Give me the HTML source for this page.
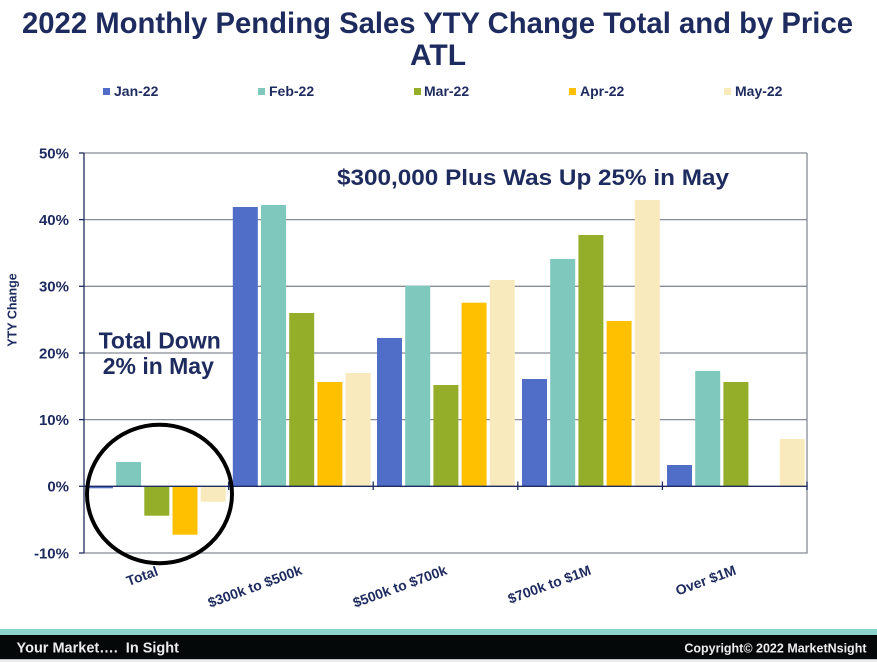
<!DOCTYPE html>
<html>
<head>
<meta charset="utf-8">
<style>
  html,body{margin:0;padding:0;background:#fff;}
  svg{display:block;}
  text{font-family:"Liberation Sans",Arial,sans-serif;font-weight:bold;fill:#1e2b5e;}
</style>
</head>
<body>
<svg width="877" height="662" viewBox="0 0 877 662" xmlns="http://www.w3.org/2000/svg">
  <rect x="0" y="0" width="877" height="662" fill="#fff"/>

  <!-- Title -->
  <text x="22" y="33" font-size="30" textLength="831" lengthAdjust="spacingAndGlyphs">2022 Monthly Pending Sales YTY Change Total and by Price</text>
  <text x="438" y="65" font-size="30" text-anchor="middle">ATL</text>

  <!-- Legend -->
  <rect x="103" y="88" width="7" height="7" fill="#506dc7"/>
  <text x="114" y="96" font-size="14">Jan-22</text>
  <rect x="258" y="88" width="7" height="7" fill="#7ec8bd"/>
  <text x="269" y="96" font-size="14">Feb-22</text>
  <rect x="414" y="88" width="7" height="7" fill="#95ae29"/>
  <text x="424" y="96" font-size="14">Mar-22</text>
  <rect x="569" y="88" width="7" height="7" fill="#ffc000"/>
  <text x="580" y="96" font-size="14">Apr-22</text>
  <rect x="724" y="88" width="7" height="7" fill="#f8eabd"/>
  <text x="735" y="96" font-size="14">May-22</text>

  <!-- Gridlines -->
  <g stroke="#888b98" stroke-width="1.3">
    <line x1="84" y1="153" x2="807" y2="153"/>
    <line x1="84" y1="219.6" x2="807" y2="219.6"/>
    <line x1="84" y1="286.3" x2="807" y2="286.3"/>
    <line x1="84" y1="353" x2="807" y2="353"/>
    <line x1="84" y1="419.6" x2="807" y2="419.6"/>
    <line x1="84" y1="553" x2="807.6" y2="553"/>
    <line x1="807" y1="153" x2="807" y2="553"/>
  </g>

  <!-- Bars -->
  <g>
    <!-- Total -->
    <rect x="87.9" y="486.3" width="25" height="2" fill="#506dc7"/>
    <rect x="116.1" y="462" width="25" height="24.3" fill="#7ec8bd"/>
    <rect x="144.3" y="486.3" width="25" height="29.4" fill="#95ae29"/>
    <rect x="172.5" y="486.3" width="25" height="48.4" fill="#ffc000"/>
    <rect x="200.7" y="486.3" width="25" height="15.4" fill="#f8eabd"/>
    <!-- 300k-500k -->
    <rect x="232.8" y="207" width="25" height="279.3" fill="#506dc7"/>
    <rect x="261" y="205" width="25" height="281.3" fill="#7ec8bd"/>
    <rect x="289.2" y="313" width="25" height="173.3" fill="#95ae29"/>
    <rect x="317.4" y="382" width="25" height="104.3" fill="#ffc000"/>
    <rect x="345.6" y="373" width="25" height="113.3" fill="#f8eabd"/>
    <!-- 500k-700k -->
    <rect x="377" y="338" width="25" height="148.3" fill="#506dc7"/>
    <rect x="405.2" y="285.7" width="25" height="200.6" fill="#7ec8bd"/>
    <rect x="433.4" y="385" width="25" height="101.3" fill="#95ae29"/>
    <rect x="461.6" y="302.7" width="25" height="183.6" fill="#ffc000"/>
    <rect x="489.8" y="280" width="25" height="206.3" fill="#f8eabd"/>
    <!-- 700k-1M -->
    <rect x="522" y="379" width="25" height="107.3" fill="#506dc7"/>
    <rect x="550.2" y="259" width="25" height="227.3" fill="#7ec8bd"/>
    <rect x="578.4" y="235" width="25" height="251.3" fill="#95ae29"/>
    <rect x="606.6" y="321" width="25" height="165.3" fill="#ffc000"/>
    <rect x="634.8" y="200" width="25" height="286.3" fill="#f8eabd"/>
    <!-- Over 1M -->
    <rect x="667" y="465" width="25" height="21.3" fill="#506dc7"/>
    <rect x="695.2" y="371" width="25" height="115.3" fill="#7ec8bd"/>
    <rect x="723.4" y="382" width="25" height="104.3" fill="#95ae29"/>
    <rect x="779.8" y="439" width="25" height="47.3" fill="#f8eabd"/>
  </g>

  <!-- Axes -->
  <g stroke="#1e2b5e" stroke-width="1.3">
    <line x1="84" y1="153" x2="84" y2="553"/>
    <line x1="84" y1="486.3" x2="807.6" y2="486.3"/>
    <line x1="79" y1="153" x2="84" y2="153"/>
    <line x1="79" y1="219.6" x2="84" y2="219.6"/>
    <line x1="79" y1="286.3" x2="84" y2="286.3"/>
    <line x1="79" y1="353" x2="84" y2="353"/>
    <line x1="79" y1="419.6" x2="84" y2="419.6"/>
    <line x1="79" y1="486.3" x2="84" y2="486.3"/>
    <line x1="79" y1="553" x2="84" y2="553"/>
    <line x1="228.6" y1="481.5" x2="228.6" y2="490"/>
    <line x1="373.2" y1="481.5" x2="373.2" y2="490"/>
    <line x1="517.8" y1="481.5" x2="517.8" y2="490"/>
    <line x1="662.4" y1="481.5" x2="662.4" y2="490"/>
    <line x1="807" y1="481.5" x2="807" y2="490"/>
  </g>

  <!-- Y tick labels -->
  <g font-size="15" text-anchor="end">
    <text x="69" y="158.5">50%</text>
    <text x="69" y="225">40%</text>
    <text x="69" y="291.5">30%</text>
    <text x="69" y="358.5">20%</text>
    <text x="69" y="425">10%</text>
    <text x="69" y="491.5">0%</text>
    <text x="69" y="558.5">-10%</text>
  </g>

  <!-- Y axis title -->
  <text x="0" y="0" font-size="12.5" text-anchor="middle" transform="translate(16.5,310) rotate(-90)">YTY Change</text>

  <!-- X labels -->
  <g font-size="14" text-anchor="end">
    <text transform="translate(159,575) rotate(-20)">Total</text>
    <text transform="translate(303,574) rotate(-20)">$300k to $500k</text>
    <text transform="translate(448,574) rotate(-20)">$500k to $700k</text>
    <text transform="translate(592,574) rotate(-20)">$700k to $1M</text>
    <text transform="translate(737,574) rotate(-20)">Over $1M</text>
  </g>

  <!-- Annotations -->
  <text x="337" y="185" font-size="22" textLength="392" lengthAdjust="spacingAndGlyphs">$300,000 Plus Was Up 25% in May</text>
  <text x="159.7" y="348.3" font-size="23" text-anchor="middle">Total Down</text>
  <text x="158.3" y="374" font-size="23" text-anchor="middle">2% in May</text>

  <!-- Circle -->
  <ellipse cx="159.5" cy="494" rx="72.5" ry="69.2" fill="none" stroke="#000" stroke-width="4"/>

  <!-- Footer -->
  <rect x="0" y="629" width="877" height="6" fill="#8bd3cc"/>
  <rect x="0" y="635" width="877" height="24.3" fill="#050808"/>
  <rect x="0" y="659.3" width="877" height="2.7" fill="#ececec"/>
  <text x="16.5" y="652.7" font-size="14.5" style="fill:#ececec">Your Market….&#160; In Sight</text>
  <text x="866.5" y="652.5" font-size="12.5" text-anchor="end" style="fill:#ececec">Copyright© 2022 MarketNsight</text>
</svg>
</body>
</html>
